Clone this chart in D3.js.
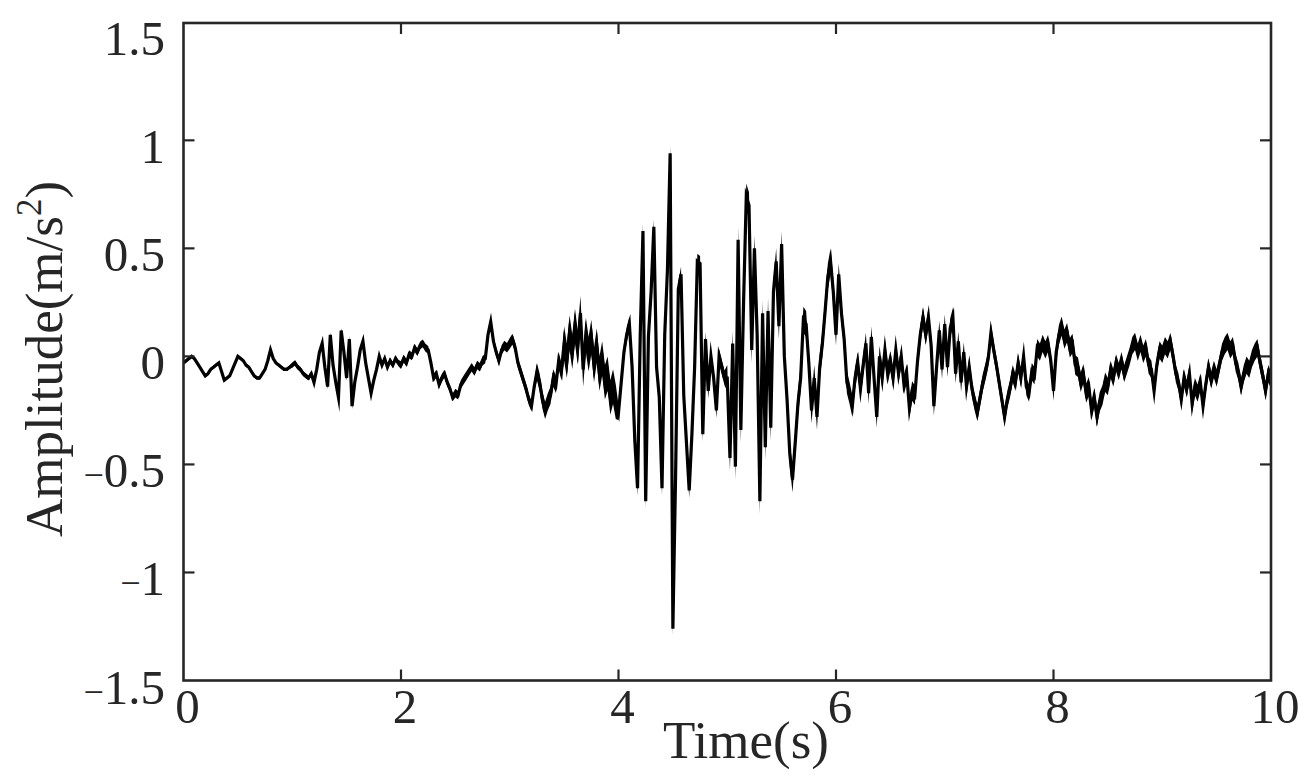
<!DOCTYPE html>
<html><head><meta charset="utf-8">
<script src="https://cdn.jsdelivr.net/npm/d3@7"></script>
<style>body{margin:0;background:#fff}</style>
</head><body>
<svg id="c" width="1310" height="782"></svg>
<script>
// ---- data ----
const tStart = 0, dt = 0.025;
const amp0 = [-0.03,-0.02,-0.01,0.00,-0.01,-0.03,-0.05,-0.07,-0.09,-0.08,-0.06,-0.05,-0.04,-0.03,-0.07,-0.11,-0.10,-0.09,-0.06,-0.03,
  0.00,-0.01,-0.02,-0.04,-0.05,-0.07,-0.09,-0.10,-0.10,-0.08,-0.06,-0.02,0.03,-0.01,-0.03,-0.04,-0.05,-0.06,-0.06,-0.05];
const amp1 = [-0.04,-0.03,-0.05,-0.06,-0.08,-0.09,-0.10,-0.08,-0.12,-0.06,0.02,0.06,-0.05,-0.14,0.10,-0.04,-0.12,-0.19,0.12,0.02,
  -0.10,0.08,-0.23,-0.12,-0.05,0.03,0.07,-0.03,-0.10,-0.17,-0.11,-0.06,0.00,-0.04,-0.01,-0.05,-0.02,-0.04,-0.01,-0.03];
const amp2 = [-0.04,-0.01,-0.03,0.01,0.00,0.04,0.02,0.05,0.06,0.04,0.03,-0.03,-0.10,-0.08,-0.13,-0.10,-0.08,-0.12,-0.15,-0.19,
  -0.17,-0.18,-0.13,-0.11,-0.09,-0.07,-0.05,-0.07,-0.04,-0.05,-0.02,-0.01,0.10,0.16,0.07,0.02,-0.02,0.03,0.05,0.04];
const amp3 = [0.06,0.08,0.04,-0.03,-0.07,-0.11,-0.15,-0.20,-0.23,-0.14,-0.07,-0.12,-0.20,-0.25,-0.21,-0.18,-0.10,-0.13,-0.02,-0.07,
  0.06,-0.02,0.11,0.02,0.14,0.04,0.20,-0.06,0.10,0.01,0.09,-0.04,0.05,-0.08,-0.01,-0.12,-0.08,-0.19,-0.14,-0.21];
const amp4 = [-0.26,-0.12,0.02,0.10,0.15,-0.05,-0.39,-0.61,0.10,0.58,-0.67,0.09,0.30,0.60,-0.05,-0.19,-0.61,0.10,0.40,0.94,
  -1.26,-0.55,0.31,0.38,-0.18,-0.40,-0.62,-0.36,-0.05,0.44,0.43,-0.36,0.08,-0.16,0.00,-0.10,-0.25,0.00,-0.05,-0.10];
const amp5 = [-0.10,-0.47,0.06,-0.51,0.54,-0.34,0.25,0.74,0.70,0.03,0.50,0.10,-0.67,0.20,-0.42,0.21,-0.33,0.30,0.44,0.14,
  0.52,0.00,-0.20,-0.45,-0.57,-0.40,-0.22,-0.10,0.17,0.15,-0.03,-0.25,-0.10,-0.28,-0.05,0.06,0.21,0.37,0.44,0.30];
const amp6 = [0.10,0.38,0.20,0.08,-0.12,-0.17,-0.23,-0.10,-0.03,-0.15,-0.04,0.06,-0.17,0.09,-0.10,-0.28,0.00,-0.10,0.03,-0.08,
  -0.02,-0.10,0.03,-0.08,0.00,-0.13,-0.08,-0.24,-0.16,-0.18,-0.02,0.10,0.18,0.10,0.18,0.05,-0.23,-0.05,0.12,-0.06];
const amp7 = [0.15,-0.05,0.13,0.18,-0.08,0.07,-0.12,0.02,-0.14,-0.05,-0.15,-0.21,-0.26,-0.19,-0.12,-0.07,-0.01,0.11,0.03,-0.04,
  -0.12,-0.20,-0.28,-0.20,-0.15,-0.08,-0.12,-0.03,-0.10,0.00,-0.14,-0.17,-0.07,-0.09,0.04,0.02,0.06,0.03,0.06,-0.02];
const amp8 = [-0.16,0.02,0.10,0.14,0.08,0.11,0.04,0.06,-0.04,-0.05,-0.12,-0.08,-0.17,-0.14,-0.25,-0.19,-0.28,-0.21,-0.18,-0.12,
  -0.14,-0.06,-0.10,-0.03,-0.07,-0.02,-0.08,-0.04,0.00,0.05,0.07,0.02,0.06,0.01,0.04,-0.04,-0.06,-0.16,-0.04,0.03];
const amp9 = [0.01,0.05,0.03,0.07,0.00,-0.08,-0.12,-0.20,-0.10,-0.15,-0.08,-0.22,-0.14,-0.17,-0.12,-0.23,-0.13,-0.05,-0.11,-0.06,
  -0.10,-0.04,0.02,0.05,0.07,0.03,0.05,-0.03,-0.07,-0.14,-0.08,-0.04,-0.06,-0.01,0.02,0.04,-0.03,-0.09,-0.16,-0.08,-0.11];
const amp = [].concat(amp0, amp1, amp2, amp3, amp4, amp5, amp6, amp7, amp8, amp9);

// half-width of the dense high-frequency band, one value per 0.25 s
const bandHalf = [0.008,0.008,0.008,0.008, 0.012,0.012,0.014,0.014, 0.018,0.018,0.020,0.022,
  0.025,0.040,0.080,0.080, 0.035,0.035,0.035,0.035, 0.060,0.060,0.060,0.060,
  0.050,0.050,0.045,0.045, 0.045,0.040,0.040,0.040, 0.045,0.045,0.040,0.040,
  0.040,0.040,0.040,0.040, 0.040];
const bandStep = 0.25;

const xTicks = [0, 2, 4, 6, 8, 10];
const yTicks = [-1.5, -1, -0.5, 0, 0.5, 1, 1.5];
const xTitle = "Time(s)";
const yTitleMain = "Amplitude(m/s";
const yTitleSup = "2";
const yTitleEnd = ")";

// ---- layout ----
const svg = d3.select("#c");
const L = 183.5, R = 1271, B = 680.5, T = 23;
const x = d3.scaleLinear().domain([0, 10]).range([L, R]);
const y = d3.scaleLinear().domain([-1.5, 1.5]).range([B, 32.3]);
const axisColor = "#262626";
const font = "'Liberation Serif', 'Times New Roman', serif";

svg.append("rect").attr("width", 1310).attr("height", 782).attr("fill", "#fff");
svg.append("clipPath").attr("id", "clip").append("rect")
  .attr("x", L).attr("y", T).attr("width", R - L).attr("height", B - T);

const tOf = i => tStart + i * dt;
const wOf = i => bandHalf[Math.min(bandHalf.length - 1, Math.floor(tOf(i) / bandStep + 1e-9))];

// dense band
const area = d3.area()
  .x((d, i) => x(tOf(i)))
  .y0((d, i) => y(d - wOf(i)))
  .y1((d, i) => y(d + wOf(i)));
svg.append("path").datum(amp)
  .attr("clip-path", "url(#clip)")
  .attr("d", area)
  .attr("fill", "#000");

// trace
const line = d3.line().x((d, i) => x(tOf(i))).y(d => y(d));
svg.append("path").datum(amp)
  .attr("clip-path", "url(#clip)")
  .attr("d", line)
  .attr("fill", "none")
  .attr("stroke", "#000")
  .attr("stroke-width", 3.2)
  .attr("stroke-linejoin", "miter")
  .attr("stroke-miterlimit", 10);

// ticks (inward, mirrored)
const tk = 11;
const g = svg.append("g").attr("stroke", axisColor).attr("stroke-width", 2.2);
xTicks.filter(v => v > 0 && v < 10).forEach(v => {
  g.append("line").attr("x1", x(v)).attr("x2", x(v)).attr("y1", B).attr("y2", B - tk);
  g.append("line").attr("x1", x(v)).attr("x2", x(v)).attr("y1", T).attr("y2", T + tk);
});
yTicks.filter(v => v > -1.5 && v < 1.5).forEach(v => {
  g.append("line").attr("x1", L).attr("x2", L + tk).attr("y1", y(v)).attr("y2", y(v));
  g.append("line").attr("x1", R).attr("x2", R - tk).attr("y1", y(v)).attr("y2", y(v));
});

// frame
svg.append("rect").attr("x", L).attr("y", T).attr("width", R - L).attr("height", B - T)
  .attr("fill", "none").attr("stroke", axisColor).attr("stroke-width", 2.6);

// tick labels
const lab = svg.append("g").attr("font-family", font).attr("font-size", 49).attr("fill", axisColor);
xTicks.forEach(v => {
  lab.append("text").attr("x", x(v) + 4).attr("y", 723).attr("text-anchor", "middle").text(String(v));
});
yTicks.forEach(v => {
  const t = lab.append("text").attr("x", 165).attr("y", y(v) + 23).attr("text-anchor", "end");
  if (v < 0) t.append("tspan").attr("font-size", 36).text("\u2212");
  t.append("tspan").text(String(Math.abs(v)));
});

// titles
svg.append("text").attr("x", 746).attr("y", 758).attr("text-anchor", "middle")
  .attr("font-family", font).attr("font-size", 53).attr("fill", axisColor).text(xTitle);

const yt = svg.append("text").attr("transform", "translate(62,359) rotate(-90)")
  .attr("text-anchor", "middle").attr("font-family", font).attr("font-size", 53).attr("fill", axisColor);
yt.append("tspan").text(yTitleMain);
yt.append("tspan").attr("font-size", 35).attr("dy", -21).text(yTitleSup);
yt.append("tspan").attr("dy", 21).text(yTitleEnd);
</script>
</body></html>
